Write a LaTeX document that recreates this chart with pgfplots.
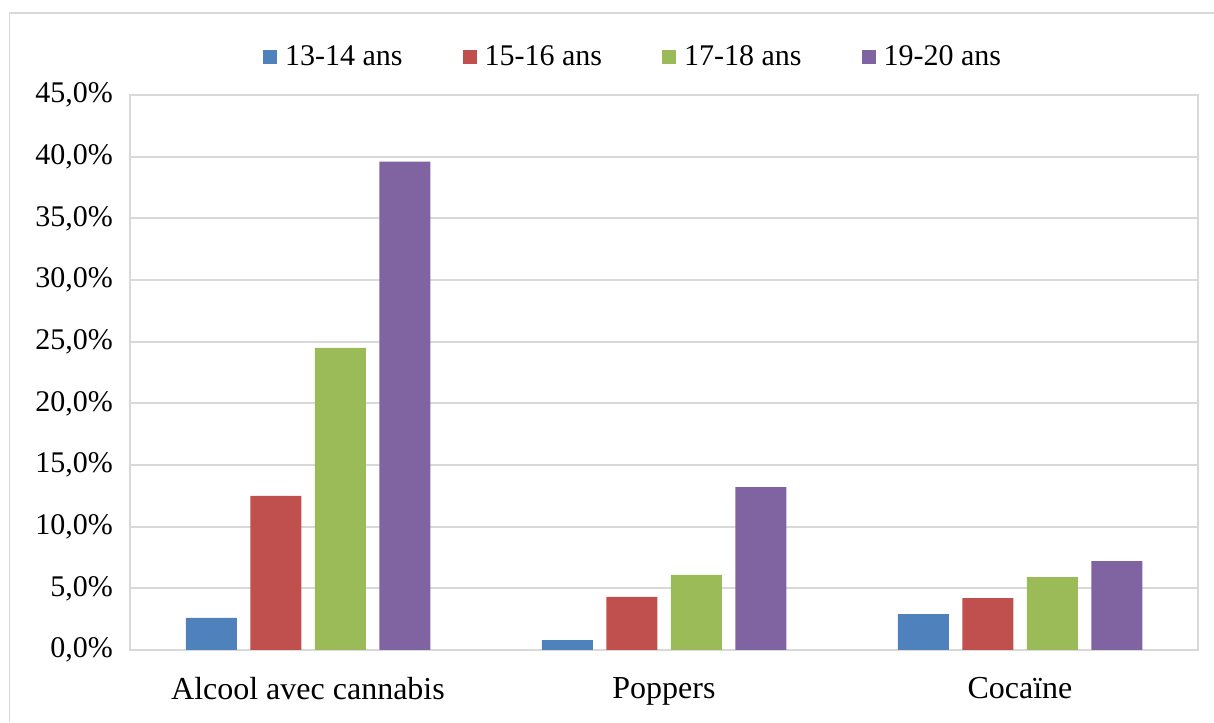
\documentclass[border=0pt]{standalone}
\usepackage{pgfplots}
\pgfplotsset{compat=1.18}
\usepackage{fontspec}
\setmainfont{Liberation Serif}

\definecolor{c1}{HTML}{4F81BD}
\definecolor{c2}{HTML}{C0504D}
\definecolor{c3}{HTML}{9BBB59}
\definecolor{c4}{HTML}{8064A2}
\definecolor{gridc}{HTML}{D9D9D9}

\begin{document}
\begin{tikzpicture}
\useasboundingbox (0,0) rectangle (607pt,361pt);
% outer chart frame (only left and top visible)
\draw[gridc, line width=0.8pt] (4.75pt,0) -- (4.75pt,354.5pt) -- (607pt,354.5pt);

\begin{axis}[
    at={(65pt,36pt)}, anchor=south west,
    scale only axis,
    width=534pt, height=277.5pt,
    ybar=6.75pt, bar width=25.5pt,
    xmin=-0.5, xmax=2.5,
    ymin=0, ymax=45,
    xtick={0,1,2},
    xticklabels={Alcool avec cannabis, Poppers, Cocaïne},
    ytick={0,5,...,45},
    major tick length=0pt,
    /pgf/number format/assume math mode=true,
    yticklabel={\pgfmathprintnumber[fixed,fixed zerofill,precision=1,use comma]{\tick}\%},
    ymajorgrids,
    grid style={gridc, line width=0.9pt},
    axis line style={gridc, line width=0.9pt},
    tick label style={font=\fontsize{15}{18}\selectfont},
    xticklabel style={font=\fontsize{16}{19}\selectfont, yshift=-10pt},
    yticklabel style={xshift=-5pt},
    legend columns=4,
    legend style={
        at={(axis description cs:0.472,1.068)}, anchor=center,
        draw=none, fill=none,
        font=\fontsize{15}{18}\selectfont,
        /tikz/every odd column/.append style={column sep=2pt},
        /tikz/every even column/.append style={column sep=28pt},
    },
    legend image code/.code={\fill[#1] (0pt,-3.5pt) rectangle (7pt,3.5pt);},
]
\addplot[fill=c1, draw=none] coordinates {(0,2.6) (1,0.8) (2,2.9)};
\addlegendentry{13-14 ans}
\addplot[fill=c2, draw=none] coordinates {(0,12.5) (1,4.3) (2,4.2)};
\addlegendentry{15-16 ans}
\addplot[fill=c3, draw=none] coordinates {(0,24.5) (1,6.1) (2,5.9)};
\addlegendentry{17-18 ans}
\addplot[fill=c4, draw=none] coordinates {(0,39.6) (1,13.2) (2,7.2)};
\addlegendentry{19-20 ans}
\end{axis}
\end{tikzpicture}
\end{document}
